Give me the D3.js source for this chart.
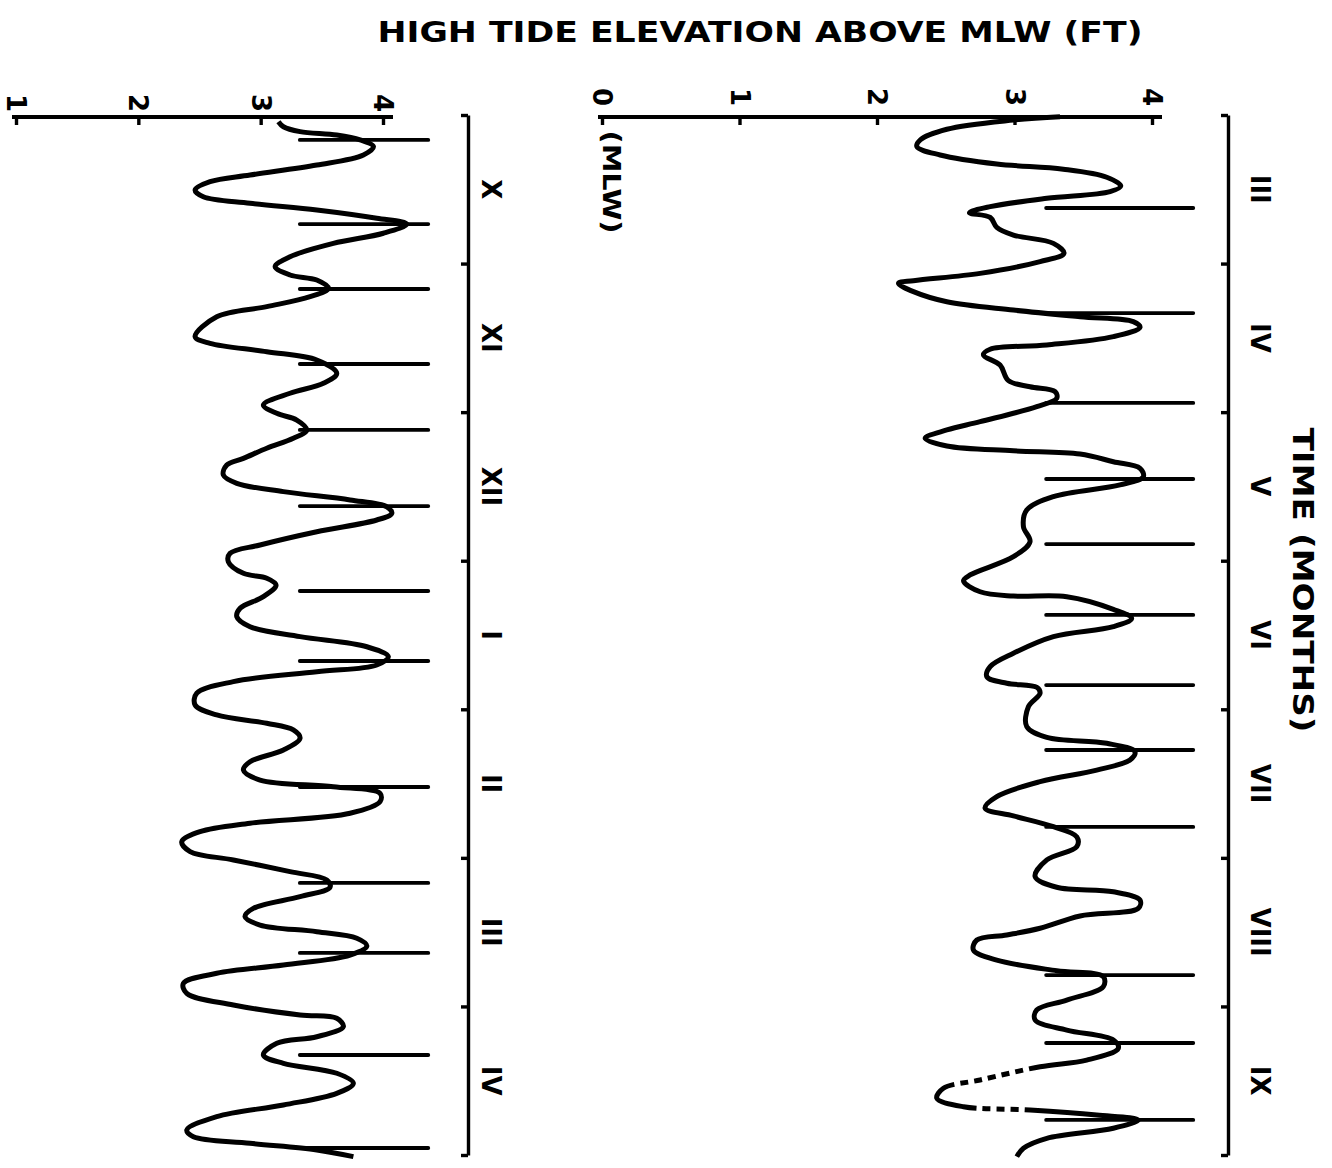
<!DOCTYPE html>
<html>
<head>
<meta charset="utf-8">
<script src="https://cdn.jsdelivr.net/npm/d3@7"></script>
<style>
  body { margin: 0; background: #fff; }
  text { font-family: "DejaVu Sans", sans-serif; font-weight: bold; fill: #000; }
</style>
</head>
<body>
<div id="chart"></div>
<script>
const TITLE = 'HIGH TIDE ELEVATION ABOVE MLW (FT)';
const TIME_LABEL = 'TIME (MONTHS)';

// months shown on each strip (time runs downward)
const leftMonths = ['X', 'XI', 'XII', 'I', 'II', 'III', 'IV'];
const rightMonths = ['III', 'IV', 'V', 'VI', 'VII', 'VIII', 'IX'];

// elevation ticks (ft above MLW)
const leftFeet = [1, 2, 3, 4];
const rightFeet = [0, 1, 2, 3, 4];

// spring tide marks, months from start of strip
const leftSpring = [0.168, 0.734, 1.171, 1.676, 2.120, 2.632, 3.204, 3.675, 4.523, 5.169, 5.640, 6.327, 6.953];
const rightSpring = [0.626, 1.333, 1.938, 2.450, 2.888, 3.365, 3.837, 4.274, 4.792, 5.789, 6.246, 6.764];

// stretches of the record drawn broken (months)
const leftBroken = [];
const rightBroken = [[6.415, 6.54], [6.682, 6.695]];

// traced high tide curve: [months, ft]
const leftTide = [
  [0.045,3.145],[0.079,3.186],[0.112,3.322],[0.135,3.622],[0.168,3.813],[0.213,3.922],[0.269,3.840],[0.337,3.459],
  [0.404,2.913],[0.449,2.586],[0.505,2.464],[0.550,2.531],[0.594,2.913],[0.639,3.459],[0.695,3.949],[0.734,4.195],
  [0.796,4.003],[0.864,3.594],[0.954,3.240],[1.021,3.118],[1.077,3.240],[1.111,3.459],[1.166,3.554],[1.223,3.404],
  [1.290,3.050],[1.358,2.641],[1.492,2.464],[1.537,2.586],[1.593,3.050],[1.649,3.459],[1.739,3.622],[1.806,3.513],
  [1.873,3.240],[1.952,3.022],[2.008,3.132],[2.053,3.295],[2.120,3.377],[2.176,3.267],[2.243,3.050],[2.311,2.859],
  [2.356,2.723],[2.423,2.695],[2.479,2.805],[2.535,3.186],[2.591,3.731],[2.637,4.031],[2.681,4.072],[2.726,3.949],
  [2.805,3.459],[2.894,2.995],[2.950,2.750],[3.007,2.736],[3.085,2.859],[3.118,3.050],[3.164,3.126],[3.242,3.022],
  [3.320,2.832],[3.377,2.805],[3.444,2.913],[3.511,3.322],[3.579,3.868],[3.646,4.044],[3.702,3.949],[3.747,3.459],
  [3.814,2.777],[3.892,2.478],[3.971,2.464],[4.038,2.641],[4.094,3.050],[4.139,3.267],[4.195,3.322],[4.274,3.186],
  [4.353,2.913],[4.409,2.859],[4.476,2.995],[4.521,3.594],[4.566,3.976],[4.622,3.976],[4.700,3.731],[4.767,2.913],
  [4.824,2.504],[4.891,2.355],[4.958,2.423],[5.014,2.777],[5.093,3.240],[5.149,3.540],[5.198,3.567],[5.261,3.322],
  [5.340,2.940],[5.396,2.872],[5.452,2.995],[5.497,3.459],[5.541,3.786],[5.593,3.868],[5.654,3.731],[5.721,3.186],
  [5.777,2.641],[5.845,2.368],[5.912,2.396],[5.990,2.777],[6.058,3.322],[6.080,3.622],[6.136,3.676],[6.204,3.459],
  [6.248,3.132],[6.327,3.022],[6.383,3.186],[6.450,3.622],[6.517,3.758],[6.585,3.622],[6.663,3.186],[6.742,2.641],
  [6.832,2.396],[6.877,2.450],[6.921,2.913],[6.966,3.459],[7.011,3.758]
];
const rightTide = [
  [0.011,3.331],[0.034,2.992],[0.096,2.508],[0.168,2.314],[0.213,2.290],[0.269,2.459],[0.330,2.871],[0.365,3.355],
  [0.419,3.671],[0.478,3.773],[0.516,3.695],[0.561,3.235],[0.617,2.823],[0.658,2.672],[0.689,2.823],[0.756,2.871],
  [0.808,2.992],[0.864,3.283],[0.931,3.360],[0.987,3.186],[1.066,2.750],[1.115,2.265],[1.133,2.156],[1.189,2.265],
  [1.257,2.508],[1.313,2.992],[1.358,3.477],[1.391,3.864],[1.429,3.913],[1.492,3.719],[1.548,3.235],[1.577,2.823],
  [1.615,2.774],[1.683,2.895],[1.788,2.956],[1.829,3.113],[1.862,3.295],[1.907,3.307],[1.963,3.162],[2.064,2.750],
  [2.120,2.508],[2.176,2.350],[2.228,2.508],[2.260,2.992],[2.282,3.477],[2.334,3.719],[2.378,3.913],[2.435,3.937],
  [2.490,3.767],[2.569,3.283],[2.659,3.089],[2.771,3.065],[2.872,3.113],[2.973,2.992],[3.096,2.677],[3.135,2.629],
  [3.209,2.750],[3.238,2.992],[3.242,3.380],[3.327,3.719],[3.388,3.852],[3.444,3.719],[3.511,3.283],[3.623,2.992],
  [3.713,2.823],[3.781,2.799],[3.825,2.944],[3.852,3.162],[3.892,3.186],[3.983,3.101],[4.117,3.089],[4.189,3.235],
  [4.229,3.671],[4.286,3.876],[4.341,3.840],[4.409,3.598],[4.487,3.186],[4.588,2.871],[4.666,2.786],[4.718,2.992],
  [4.790,3.283],[4.858,3.453],[4.925,3.453],[5.014,3.235],[5.127,3.150],[5.198,3.307],[5.228,3.719],[5.284,3.913],
  [5.340,3.900],[5.391,3.477],[5.474,3.186],[5.519,2.944],[5.553,2.726],[5.620,2.701],[5.688,2.871],[5.760,3.307],
  [5.800,3.646],[5.867,3.646],[5.957,3.380],[6.024,3.162],[6.091,3.150],[6.159,3.380],[6.226,3.719],[6.282,3.755],
  [6.361,3.525],[6.406,3.186],[6.495,2.750],[6.551,2.483],[6.618,2.435],[6.675,2.629],[6.697,3.113],[6.731,3.598],
  [6.764,3.900],[6.820,3.719],[6.888,3.235],[6.955,3.065],[7.011,3.017]
];

const W = 1332, H = 1168;
const svg = d3.select('#chart').append('svg').attr('width', W).attr('height', H);

const y = d3.scaleLinear().domain([0, 7]).range([115, 1155]);
const axisY = 117;

const panels = [
  { months: leftMonths, feet: leftFeet, tide: leftTide, spring: leftSpring, broken: leftBroken,
    x: d3.scaleLinear().domain([1, 4]).range([16, 383]),
    timeX: 468, monthX: 491, featLabelY: 103, spike: [3.32, 4.37] },
  { months: rightMonths, feet: rightFeet, tide: rightTide, spring: rightSpring, broken: rightBroken,
    x: d3.scaleLinear().domain([0, 4]).range([602, 1152]),
    timeX: 1228, monthX: 1260, featLabelY: 97, spike: [3.23, 4.30], mlw: true }
];

const rotText = (g, cx, cy, txt, size) => g.append('text')
  .attr('transform', `translate(${cx},${cy}) rotate(90)`)
  .attr('text-anchor', 'middle').attr('dominant-baseline', 'central')
  .attr('font-size', size).text(txt);

// dash pattern that is solid except over the broken stretches
function brokenDash(node, ranges) {
  const total = node.getTotalLength();
  // sample once, then look up the first length reaching a given y
  const samples = d3.range(0, total, 2).map(l => [l, node.getPointAtLength(l).y]);
  const at = ty => { const s = samples.find(d => d[1] >= ty); return s ? s[0] : total; };
  const arr = []; let pos = 0;
  ranges.forEach(([a, b]) => {
    const la = Math.max(pos, at(y(a))), lb = Math.max(la, at(y(b)));
    arr.push(la - pos, 6); pos = la + 6;
    let n = 0;
    while (pos + 14 < lb && n++ < 200) { arr.push(8, 6); pos += 14; }
  });
  arr.push(Math.max(1, total - pos + 10), total);
  return arr.join(',');
}

panels.forEach(p => {
  const g = svg.append('g');
  const [x0, x1] = p.x.range();

  // elevation axis across the top
  g.append('line').attr('x1', x0 - 4).attr('x2', x1 + 10).attr('y1', axisY).attr('y2', axisY)
    .attr('stroke', '#000').attr('stroke-width', 4.2);
  const ax = g.append('g').attr('transform', `translate(0,${axisY})`)
    .call(d3.axisBottom(p.x).tickValues(p.feet).tickSize(8).tickFormat(''));
  ax.select('.domain').remove();
  ax.selectAll('line').attr('stroke', '#000').attr('stroke-width', 3.4);
  p.feet.forEach(v => rotText(g, p.x(v), p.featLabelY, d3.format('d')(v), 26));
  if (p.mlw) rotText(g, p.x(0) + 9, 182, '(MLW)', 24).attr('textLength', 103).attr('lengthAdjust', 'spacingAndGlyphs');

  // time axis down the side
  const tx = g.append('g').attr('transform', `translate(${p.timeX},0)`)
    .call(d3.axisLeft(y).tickValues(d3.range(0, 8)).tickSize(7).tickSizeOuter(0).tickFormat(''));
  tx.select('.domain').attr('stroke', '#000').attr('stroke-width', 3.4);
  tx.selectAll('line').attr('stroke', '#000').attr('stroke-width', 3.4);
  p.months.forEach((m, i) => rotText(g, p.monthX, y(i + 0.5), m, 26));

  // spring tide marks
  g.selectAll('line.spring').data(p.spring).join('line').attr('class', 'spring')
    .attr('x1', p.x(p.spike[0])).attr('x2', p.x(p.spike[1]))
    .attr('y1', d => y(d)).attr('y2', d => y(d))
    .attr('stroke', '#000').attr('stroke-width', 3.8).attr('stroke-linecap', 'round');

  // tide curve
  const path = g.append('path').datum(p.tide)
    .attr('d', d3.line().x(d => p.x(d[1])).y(d => y(d[0])).curve(d3.curveCatmullRom.alpha(0.5)))
    .attr('fill', 'none').attr('stroke', '#000').attr('stroke-width', 5)
    .attr('stroke-linejoin', 'round');
  if (p.broken.length) path.attr('stroke-dasharray', brokenDash(path.node(), p.broken));
});

svg.append('text').attr('x', 760).attr('y', 42).attr('text-anchor', 'middle')
  .attr('font-size', 28).attr('textLength', 765).attr('lengthAdjust', 'spacingAndGlyphs').text(TITLE);
rotText(svg, 1302, 580, TIME_LABEL, 28).attr('textLength', 305).attr('lengthAdjust', 'spacingAndGlyphs');
</script>
</body>
</html>
